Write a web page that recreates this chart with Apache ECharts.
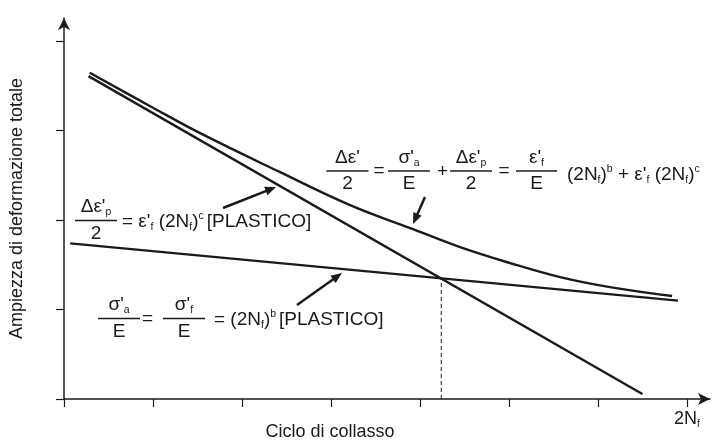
<!DOCTYPE html>
<html>
<head>
<meta charset="utf-8">
<script src="https://cdn.jsdelivr.net/npm/echarts@6/dist/echarts.min.js"></script>
<style>
  html, body { margin: 0; padding: 0; background: #fff; }
  #root { width: 716px; height: 444px; }
</style>
</head>
<body>
<div id="root"></div>
<script>
// values (axis units = tick steps)
const xTicks = [0, 1, 2, 3, 4, 5, 6, 7];
const yTicks = [0, 1, 2, 3, 4];
const xEndTick = [7];
const plasticLine = [[0.275, 3.61], [6.50, 0.056]];
const elasticLine = [[0.07, 1.74], [6.90, 1.10]];
const totalCurve = [
  [0.289, 3.648], [0.969, 3.274], [1.530, 2.972], [2.429, 2.536],
  [3.215, 2.168], [3.923, 1.899], [4.451, 1.698], [5.013, 1.520],
  [5.575, 1.363], [6.137, 1.251], [6.834, 1.151]
];
const transitionPoint = [4.24, 1.35];
const yTitle = 'Ampiezza di deformazione totale';
const xTitle = 'Ciclo di collasso';

const FONT = '"Liberation Sans", Arial, sans-serif';
const INK = '#1a1a1a';

const rich = {
  m: { fontSize: 19, fontFamily: FONT, fill: INK, lineHeight: 22, verticalAlign: 'middle' },
  s: { fontSize: 10.5, fontFamily: FONT, fill: INK, lineHeight: 11, verticalAlign: 'bottom' },
  p: { fontSize: 10.5, fontFamily: FONT, fill: INK, lineHeight: 15, verticalAlign: 'top' }
};

function txt(x, y, str, align) {
  return {
    type: 'text', x: x, y: y,
    style: { text: str, rich: rich, align: align || 'left', verticalAlign: 'middle', fill: INK, font: '19px ' + FONT }
  };
}

function frac(cx, by, w, num, den) {
  return [
    { type: 'line', shape: { x1: cx - w / 2, y1: by, x2: cx + w / 2, y2: by }, style: { stroke: INK, lineWidth: 1.5 } },
    txt(cx, by - 13.5, num, 'center'),
    txt(cx, by + 13, den, 'center')
  ];
}

function arrow(x1, y1, x2, y2) {
  const dx = x2 - x1, dy = y2 - y1, len = Math.sqrt(dx * dx + dy * dy);
  const ux = dx / len, uy = dy / len, hl = 11, hw = 4.5;
  const bx = x2 - ux * hl, by = y2 - uy * hl;
  return [
    { type: 'line', shape: { x1: x1, y1: y1, x2: bx + ux * 2, y2: by + uy * 2 }, style: { stroke: INK, lineWidth: 2.5 } },
    { type: 'polygon', shape: { points: [[x2, y2], [bx - uy * hw, by + ux * hw], [bx + uy * hw, by - ux * hw]] }, style: { fill: INK } }
  ];
}

const graphics = [].concat(
  // total strain formula
  frac(347.5, 171, 42, "{m|Δε'}", '{m|2}'),
  [txt(379, 171, '{m|=}', 'center')],
  frac(409, 171, 42, "{m|σ'}{s|a}", '{m|E}'),
  [txt(442.5, 172, '{m|+}', 'center')],
  frac(471, 171, 42, "{m|Δε'}{s|p}", '{m|2}'),
  [txt(504, 171, '{m|=}', 'center')],
  frac(536.5, 171, 41, "{m|ε'}{s|f}", '{m|E}'),
  [txt(567, 175, "{m|(2N}{s|f}{m|)}{p|b}{m| + ε'}{s|f}{m| (2N}{s|f}{m|)}{p|c}", 'left')],
  // plastic formula
  frac(96, 220.5, 42, "{m|Δε'}{s|p}", '{m|2}'),
  [txt(122, 222, "{m|= ε'}{s|f}{m| (2N}{s|f}{m|)}{p|c }{m|[PLASTICO]}", 'left')],
  // elastic formula
  frac(119, 318.5, 42, "{m|σ'}{s|a}", '{m|E}'),
  [txt(147.5, 319, '{m|=}', 'center')],
  frac(184, 318.5, 42, "{m|σ'}{s|f}", '{m|E}'),
  [txt(214, 319.5, '{m|= (2N}{s|f}{m|)}{p|b }{m|[PLASTICO]}', 'left')],
  // arrows
  arrow(425, 197, 413, 224),
  arrow(223, 208, 276, 187),
  arrow(297, 305, 342, 273),
  // x title
  [{ type: 'text', x: 330, y: 432, style: { text: xTitle, font: '18px ' + FONT, fill: INK, align: 'center', verticalAlign: 'middle' } }]
);

const chart = echarts.init(document.getElementById('root'));
chart.setOption({
  animation: false,
  backgroundColor: '#fff',
  grid: { left: 64, right: 6, top: 18, bottom: 45 },
  xAxis: {
    type: 'value', min: 0, max: 7.26,
    axisLine: { show: true, symbol: ['none', 'arrow'], symbolSize: [9, 12], lineStyle: { color: INK, width: 1.5 } },
    axisTick: { show: true, customValues: xTicks, length: 8, lineStyle: { color: INK, width: 1.2 } },
    axisLabel: {
      show: true, customValues: xEndTick, margin: 10,
      formatter: function () { return '{m|2N}{s|f}'; },
      rich: {
        m: { fontSize: 18, fontFamily: FONT, color: INK, lineHeight: 20, verticalAlign: 'middle' },
        s: { fontSize: 10, fontFamily: FONT, color: INK, lineHeight: 10, verticalAlign: 'bottom' }
      }
    },
    splitLine: { show: false }
  },
  yAxis: {
    type: 'value', min: 0, max: 4.26,
    name: yTitle, nameLocation: 'middle', nameRotate: 90, nameGap: 38,
    nameTextStyle: { fontSize: 18, fontFamily: FONT, color: INK },
    axisLine: { show: true, symbol: ['none', 'arrow'], symbolSize: [9, 12], lineStyle: { color: INK, width: 1.5 } },
    axisTick: { show: true, customValues: yTicks, length: 8, lineStyle: { color: INK, width: 1.2 } },
    axisLabel: { show: false },
    splitLine: { show: false }
  },
  series: [
    { type: 'line', data: plasticLine, symbol: 'none', lineStyle: { color: INK, width: 2.4 } },
    { type: 'line', data: elasticLine, symbol: 'none', lineStyle: { color: INK, width: 2.4 } },
    { type: 'line', data: totalCurve, symbol: 'none', smooth: 0.4, lineStyle: { color: INK, width: 2.4 } },
    {
      type: 'line', data: [[transitionPoint[0], 0], transitionPoint], symbol: 'none',
      lineStyle: { color: INK, width: 1, type: [4, 3] }
    }
  ],
  graphic: graphics
});
</script>
</body>
</html>
